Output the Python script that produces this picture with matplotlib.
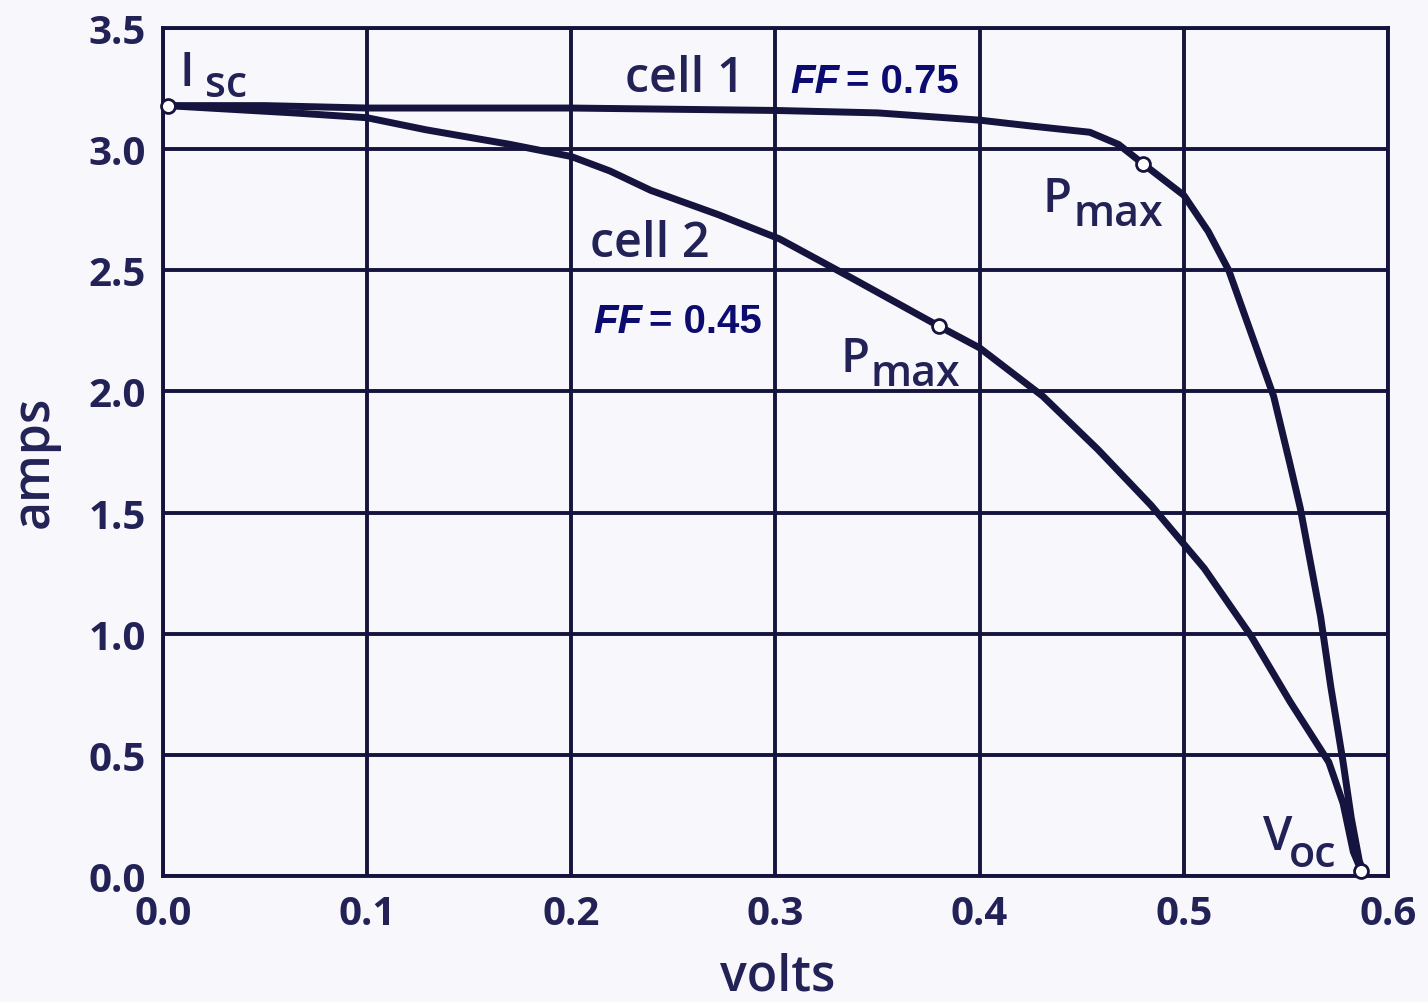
import matplotlib
matplotlib.use('Agg')
import matplotlib.pyplot as plt

# I-V curves of two solar cells (volts, amps)
volts_cell1 = [0.002, 0.05, 0.10, 0.20, 0.30, 0.35, 0.40, 0.426, 0.454, 0.468,
               0.480, 0.500, 0.512, 0.522, 0.533, 0.544, 0.552, 0.557, 0.567,
               0.572, 0.578, 0.582, 0.586, 0.588]
amps_cell1 = [3.18, 3.18, 3.17, 3.17, 3.16, 3.15, 3.12, 3.095, 3.07, 3.02,
              2.94, 2.81, 2.66, 2.50, 2.24, 1.98, 1.70, 1.52, 1.07,
              0.78, 0.47, 0.24, 0.06, 0.02]

volts_cell2 = [0.002, 0.064, 0.10, 0.129, 0.170, 0.20, 0.219, 0.239, 0.272, 0.302,
               0.337, 0.380, 0.400, 0.431, 0.458, 0.484, 0.500, 0.510, 0.533,
               0.552, 0.571, 0.578, 0.583, 0.587]
amps_cell2 = [3.18, 3.15, 3.13, 3.08, 3.02, 2.97, 2.91, 2.83, 2.73, 2.63,
              2.47, 2.27, 2.18, 1.98, 1.76, 1.53, 1.37, 1.27, 0.99,
              0.72, 0.47, 0.30, 0.10, 0.02]

# marked points: Isc, Pmax (cell 1), Pmax (cell 2), Voc
point_names = ['Isc', 'Pmax1', 'Pmax2', 'Voc']
point_volts = [0.0025, 0.480, 0.380, 0.587]
point_amps = [3.18, 2.94, 2.27, 0.02]

x_ticks = [0.0, 0.1, 0.2, 0.3, 0.4, 0.5, 0.6]
y_ticks = [0.0, 0.5, 1.0, 1.5, 2.0, 2.5, 3.0, 3.5]

fill_factors = ['0.75', '0.45']

NAVY = '#14143f'
TEXT = '#222256'
FF_BLUE = '#0c0c70'
BG = '#f8f8fc'
LABEL_FONT = 'Open Sans'

fig = plt.figure(figsize=(14.28, 10.03), dpi=100, facecolor=BG)
ax = fig.add_axes([0.114, 0.1256, 0.858, 0.8454], facecolor=BG)

ax.set_xlim(0, 0.6)
ax.set_ylim(0, 3.5)
ax.set_xticks(x_ticks)
ax.set_yticks(y_ticks)
ax.set_xticklabels([f'{t:.1f}' for t in x_ticks])
ax.set_yticklabels([f'{t:.1f}' for t in y_ticks])
ax.grid(True, color=NAVY, linewidth=2.8)
ax.set_axisbelow(True)
for sp in ax.spines.values():
    sp.set_color(NAVY)
    sp.set_linewidth(2.8)
ax.tick_params(length=0, labelcolor=TEXT, labelsize=29)
ax.tick_params(axis='x', pad=13)
ax.tick_params(axis='y', pad=12)
for lab in ax.get_xticklabels() + ax.get_yticklabels():
    lab.set_fontfamily(LABEL_FONT)
    lab.set_fontweight('bold')

ax.plot(volts_cell1, amps_cell1, color=NAVY, linewidth=5, solid_capstyle='round',
        solid_joinstyle='round', clip_on=False, zorder=3)
ax.plot(volts_cell2, amps_cell2, color=NAVY, linewidth=5, solid_capstyle='round',
        solid_joinstyle='round', clip_on=False, zorder=3)
ax.plot(point_volts, point_amps, linestyle='none', marker='o', markersize=10,
        markerfacecolor='white', markeredgecolor=NAVY, markeredgewidth=2,
        clip_on=False, zorder=4)

lbl = dict(color=TEXT, family=LABEL_FONT, fontweight='semibold')

# curve names
ax.text(0.2559, 3.29, 'cell 1', fontsize=35, ha='center', va='center', **lbl)
ax.text(0.2387, 2.61, 'cell 2', fontsize=35, ha='center', va='center', **lbl)

# point labels with subscripts
ax.text(0.0083, 3.265, 'I', fontsize=34, ha='left', va='baseline', **lbl)
ax.text(0.0206, 3.22, 'sc', fontsize=31, ha='left', va='baseline', **lbl)
ax.text(0.431, 2.744, 'P', fontsize=34, ha='left', va='baseline', **lbl)
ax.text(0.446, 2.686, 'max', fontsize=31, ha='left', va='baseline', **lbl)
ax.text(0.332, 2.083, 'P', fontsize=34, ha='left', va='baseline', **lbl)
ax.text(0.3466, 2.025, 'max', fontsize=31, ha='left', va='baseline', **lbl)
ax.text(0.5387, 0.112, 'V', fontsize=34, ha='left', va='baseline', **lbl)
ax.text(0.5515, 0.041, 'oc', fontsize=31, ha='left', va='baseline', **lbl)

# fill factors
ff = dict(color=FF_BLUE, family='Liberation Sans', fontweight='bold', fontsize=29,
          va='center', ha='left')
ax.text(0.3074, 3.28, 'FF', style='italic', **ff)
ax.text(0.3345, 3.28, '= ' + fill_factors[0], **ff)
ax.text(0.2108, 2.29, 'FF', style='italic', **ff)
ax.text(0.2379, 2.29, '= ' + fill_factors[1], **ff)

# axis titles
fig.text(778 / 1428, 1 - 978 / 1003, 'volts', fontsize=36, ha='center', va='center', **lbl)
fig.text(35 / 1428, 1 - 462 / 1003, 'amps', fontsize=36, ha='center', va='center',
         rotation=90, **lbl)

fig.savefig('out.png', dpi=100, facecolor=BG)
